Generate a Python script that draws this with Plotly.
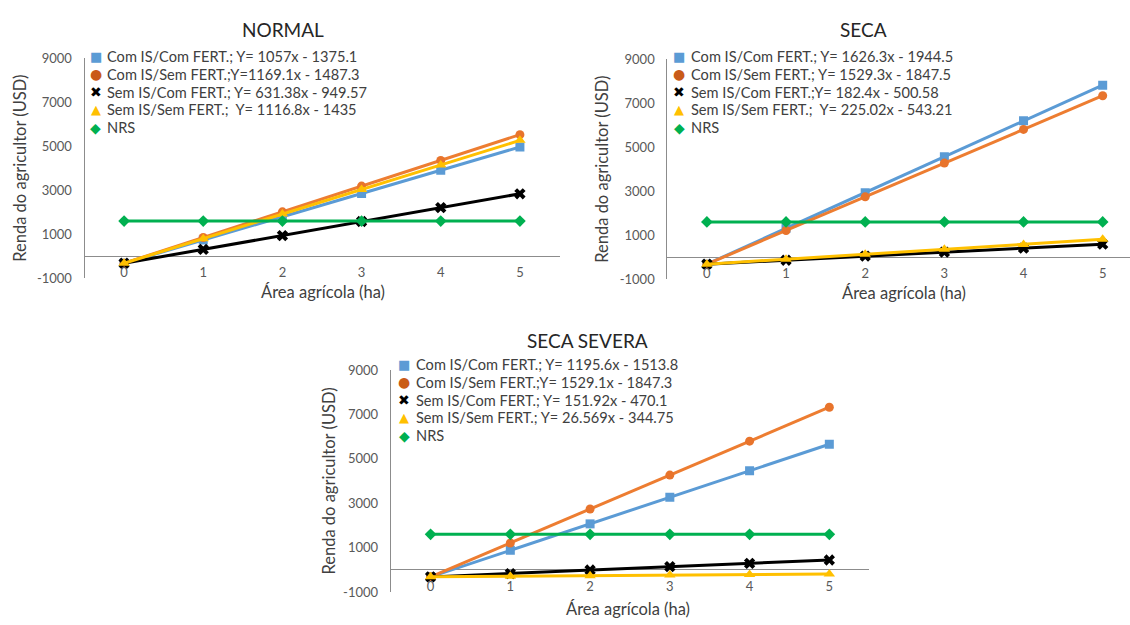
import plotly.graph_objects as go

area = [0, 1, 2, 3, 4, 5]
ytick_vals = [-1000, 1000, 3000, 5000, 7000, 9000]
ytick_text = ["-1000", "1000", "3000", "5000", "7000", "9000"]

series_names = ["Com IS/Com FERT.", "Com IS/Sem FERT.", "Sem IS/Com FERT.", "Sem IS/Sem FERT.", "NRS"]

# NORMAL
normal_com_com = [-320, 740, 1800, 2850, 3910, 4970]
normal_com_sem = [-320, 850, 2020, 3190, 4360, 5530]
normal_sem_com = [-320, 310, 940, 1580, 2210, 2840]
normal_sem_sem = [-320, 800, 1920, 3030, 4150, 5270]
normal_nrs = [1600, 1600, 1600, 1600, 1600, 1600]
normal_legend = ["Com IS/Com FERT.; Y= 1057x - 1375.1",
                 "Com IS/Sem FERT.;Y=1169.1x - 1487.3",
                 "Sem IS/Com FERT.; Y= 631.38x - 949.57",
                 "Sem IS/Sem FERT.;  Y= 1116.8x - 1435",
                 "NRS"]

# SECA
seca_com_com = [-320, 1310, 2930, 4560, 6190, 7810]
seca_com_sem = [-320, 1210, 2740, 4270, 5800, 7330]
seca_sem_com = [-320, -140, 50, 230, 410, 590]
seca_sem_sem = [-320, -90, 130, 360, 580, 810]
seca_nrs = [1600, 1600, 1600, 1600, 1600, 1600]
seca_legend = ["Com IS/Com FERT.; Y= 1626.3x - 1944.5",
               "Com IS/Sem FERT.; Y= 1529.3x - 1847.5",
               "Sem IS/Com FERT.;Y= 182.4x - 500.58",
               "Sem IS/Sem FERT.;  Y= 225.02x - 543.21",
               "NRS"]

# SECA SEVERA
severa_com_com = [-320, 880, 2070, 3270, 4460, 5660]
severa_com_sem = [-320, 1210, 2740, 4270, 5800, 7330]
severa_sem_com = [-320, -170, -10, 140, 290, 440]
severa_sem_sem = [-320, -290, -270, -240, -210, -190]
severa_nrs = [1600, 1600, 1600, 1600, 1600, 1600]
severa_legend = ["Com IS/Com FERT.; Y= 1195.6x - 1513.8",
                 "Com IS/Sem FERT.;Y= 1529.1x - 1847.3",
                 "Sem IS/Com FERT.; Y= 151.92x - 470.1",
                 "Sem IS/Sem FERT.; Y= 26.569x - 344.75",
                 "NRS"]

colors = ["#5B9BD5", "#ED7D31", "#000000", "#FFC000", "#00B050"]
marker_colors = ["#5B9BD5", "#E8742C", "#000000", "#FFC000", "#00B050"]
legend_glyph_colors = ["#5B9BD5", "#C95B18", "#000000", "#FFC000", "#00B050"]
symbols = ["square", "circle", "x", "triangle-up", "diamond"]
sizes = [9, 9, 10, 10, 9]
glyphs = ["\u25A0", "\u25CF", "\u2716", "\u25B2", "\u25C6"]
glyph_sizes = [13, 14, 14, 13, 14]

W, H = 1130, 625
FONT = "Lato"


def fx(px):
    return px / W


def fy(py):
    return 1 - py / H


panels = [
    dict(title="NORMAL", data=[normal_com_com, normal_com_sem, normal_sem_com, normal_sem_sem, normal_nrs],
         legend_text=normal_legend, px=(84.5, 559.5), py=(51.7, 277.3), xr=[-0.5, 5.5],
         title_pos=(282.5, 21.7), xtitle_pos=(322.5, 291.7), ytitle_pos=(20, 165),
         glyph_x=95.7, text_x=105.3, row_y=50.0),
    dict(title="SECA", data=[seca_com_com, seca_com_sem, seca_sem_com, seca_sem_sem, seca_nrs],
         legend_text=seca_legend, px=(667.3, 1130), py=(52.3, 278.3), xr=[-0.5, 5.345],
         title_pos=(863.5, 22), xtitle_pos=(904, 292.7), ytitle_pos=(602, 166),
         glyph_x=679.3, text_x=689.3, row_y=50.0),
    dict(title="SECA SEVERA", data=[severa_com_com, severa_com_sem, severa_sem_com, severa_sem_sem, severa_nrs],
         legend_text=severa_legend, px=(390.7, 869.2), py=(371.7, 599.3), xr=[-0.5, 5.5],
         title_pos=(587.5, 341.7), xtitle_pos=(628.3, 616.5), ytitle_pos=(329, 486),
         glyph_x=404, text_x=414, row_y=366.0),
]

ROW_STEP = 18.2

fig = go.Figure()
layout = dict(width=W, height=H, margin=dict(l=0, r=0, t=0, b=0),
              paper_bgcolor="white", plot_bgcolor="white",
              font=dict(family=FONT, color="#404040"), showlegend=False)
annotations = []

for i, p in enumerate(panels):
    n = "" if i == 0 else str(i + 1)
    xa, ya = "x" + n, "y" + n
    for j in range(5):
        fig.add_trace(go.Scatter(
            x=area, y=p["data"][j], mode="lines+markers", xaxis=xa, yaxis=ya,
            line=dict(color=colors[j], width=3),
            marker=dict(symbol=symbols[j], size=sizes[j], color=marker_colors[j],
                        line=dict(width=0)),
            showlegend=False, hoverinfo="x+y", name=series_names[j]))
    x0, x1 = p["px"]
    y0, y1 = p["py"]
    layout["xaxis" + n] = dict(domain=[fx(x0), min(fx(x1), 1.0)], range=p["xr"], anchor=ya,
                               tickvals=area, ticktext=[str(v) for v in area],
                               showgrid=False, zeroline=False, showline=False,
                               ticks="", ticklabelstandoff=-15,
                               tickfont=dict(size=13, color="#595959", family=FONT),
                               fixedrange=True)
    layout["yaxis" + n] = dict(domain=[fy(y1), fy(y0)], range=[-1000, 9000], anchor=xa,
                               tickvals=ytick_vals, ticktext=ytick_text,
                               showgrid=False, zeroline=True, zerolinecolor="#8C8C8C",
                               zerolinewidth=1, showline=True, linecolor="#8C8C8C", linewidth=1,
                               ticks="", ticklabelstandoff=9,
                               tickfont=dict(size=13, color="#595959", family=FONT),
                               fixedrange=True)
    # legend rows: coloured marker glyph + equation text
    for j in range(5):
        ry = p["row_y"] + j * ROW_STEP
        annotations.append(dict(text=glyphs[j], x=fx(p["glyph_x"]), y=fy(ry), xref="paper", yref="paper",
                                showarrow=False, xanchor="center", yanchor="middle",
                                font=dict(size=glyph_sizes[j], color=legend_glyph_colors[j],
                                          family="DejaVu Sans")))
        annotations.append(dict(text=p["legend_text"][j], x=fx(p["text_x"]), y=fy(ry),
                                xref="paper", yref="paper",
                                showarrow=False, xanchor="left", yanchor="middle",
                                font=dict(size=14.6, color="#404040", family=FONT)))
    tx, ty = p["title_pos"]
    annotations.append(dict(text=p["title"], x=fx(tx), y=fy(ty), xref="paper", yref="paper",
                            showarrow=False, xanchor="center", yanchor="middle",
                            font=dict(size=19, color="#262626", family=FONT)))
    ax, ay = p["xtitle_pos"]
    annotations.append(dict(text="Área agrícola (ha)", x=fx(ax), y=fy(ay), xref="paper", yref="paper",
                            showarrow=False, xanchor="center", yanchor="middle",
                            font=dict(size=16.5, color="#404040", family=FONT)))
    bx, by = p["ytitle_pos"]
    annotations.append(dict(text="Renda do agricultor (USD)", x=fx(bx), y=fy(by), xref="paper", yref="paper",
                            showarrow=False, xanchor="center", yanchor="middle", textangle=-90,
                            font=dict(size=16.5, color="#404040", family=FONT)))

layout["annotations"] = annotations
fig.update_layout(**layout)
# remove the default 8px page margin so the 1130x625 figure fills the window exactly
fig.write_html("out.html", config={"displayModeBar": False},
               post_script="document.body.style.margin='0';document.body.style.overflow='hidden';")
